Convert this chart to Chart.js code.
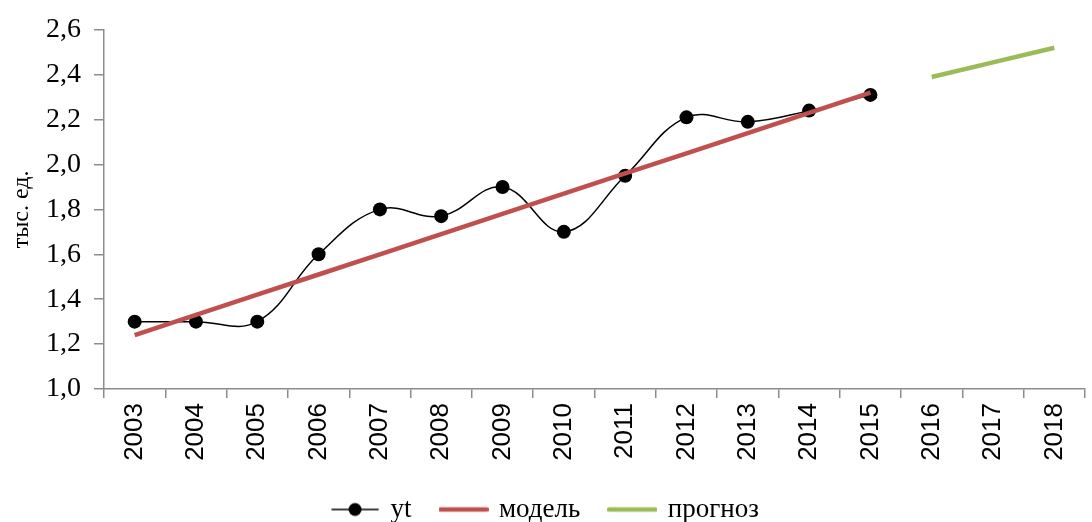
<!DOCTYPE html>
<html>
<head>
<meta charset="utf-8">
<script src="https://cdn.jsdelivr.net/npm/chart.js"></script>
<style>
  html, body { margin: 0; padding: 0; background: #fff; overflow: hidden; }
  #wrap { width: 1092px; height: 522px; }
</style>
</head>
<body>
<div id="wrap"><canvas id="chart" width="1092" height="522"></canvas></div>
<script>
const years = ['2003', '2004', '2005', '2006', '2007', '2008', '2009', '2010',
               '2011', '2012', '2013', '2014', '2015', '2016', '2017', '2018'];
const ytValues = [1.30, 1.30, 1.30, 1.60, 1.80, 1.77, 1.90, 1.70, 1.95, 2.21, 2.19, 2.24, 2.31,
                  null, null, null];
const modelValues = [1.24, 1.33, 1.42, 1.51, 1.60, 1.69, 1.78, 1.87, 1.96, 2.05, 2.14, 2.23, 2.32,
                     null, null, null];
const forecastValues = [null, null, null, null, null, null, null, null, null, null, null, null, null,
                        2.39, 2.455, 2.52];
const yTicks = [1.0, 1.2, 1.4, 1.6, 1.8, 2.0, 2.2, 2.4, 2.6];

const RED = 'rgb(192,80,77)';
const GREEN = 'rgb(155,187,89)';
const AXIS = '#8c8c8c';
const SERIF = '"Liberation Serif", "Times New Roman", serif';

// small legend markers
function marker(color, width, dot) {
    const c = document.createElement('canvas');
    c.width = 50; c.height = 16;
    const g = c.getContext('2d');
    g.strokeStyle = color;
    g.lineWidth = width;
    g.lineCap = 'round';
    g.beginPath();
    g.moveTo(2, 8);
    g.lineTo(48, 8);
    g.stroke();
    if (dot) {
        g.fillStyle = color;
        g.beginPath();
        g.arc(25, 8, 6.5, 0, Math.PI * 2);
        g.fill();
    }
    return c;
}
const markers = [marker('#000', 1.6, true), marker(RED, 4.5, false), marker(GREEN, 4.5, false)];

new Chart(document.getElementById('chart').getContext('2d'), {
    type: 'line',
    data: {
        labels: years,
        datasets: [
            {
                label: 'yt',
                data: ytValues,
                borderColor: '#000',
                backgroundColor: '#000',
                borderWidth: 1.5,
                pointRadius: 7,
                pointBorderWidth: 0,
                tension: 0.4,
                fill: false,
                order: 2
            },
            {
                label: 'модель',
                data: modelValues,
                borderColor: RED,
                backgroundColor: RED,
                borderWidth: 4.5,
                pointRadius: 0,
                tension: 0,
                fill: false,
                order: 1
            },
            {
                label: 'прогноз',
                data: forecastValues,
                borderColor: GREEN,
                backgroundColor: GREEN,
                borderWidth: 4.5,
                pointRadius: 0,
                tension: 0,
                fill: false,
                order: 1
            }
        ]
    },
    options: {
        responsive: false,
        animation: false,
        layout: { padding: { top: 29, right: 0, left: 0, bottom: -11 } },
        plugins: {
            tooltip: { enabled: false },
            legend: {
                position: 'bottom',
                labels: {
                    color: '#000',
                    font: { family: SERIF, size: 27 },
                    usePointStyle: true,
                    pointStyleWidth: 44,
                    padding: 30,
                    generateLabels: (chart) => chart.data.datasets.map((ds, i) => ({
                        text: ds.label,
                        pointStyle: markers[i],
                        datasetIndex: i,
                        hidden: false,
                        lineWidth: 0,
                        fillStyle: 'transparent',
                        strokeStyle: 'transparent'
                    }))
                }
            }
        },
        scales: {
            x: {
                offset: true,
                afterFit: (axis) => { axis.height = 77; },
                border: { color: AXIS, width: 1.5 },
                grid: { display: true, offset: true, drawOnChartArea: false, drawTicks: true,
                        tickLength: 9, color: AXIS, lineWidth: 1.5 },
                ticks: {
                    color: '#000',
                    maxRotation: 90,
                    minRotation: 90,
                    autoSkip: false,
                    padding: 5,
                    font: { family: '"Liberation Sans", Arial, sans-serif', size: 26 }
                }
            },
            y: {
                min: 1.0,
                max: 2.6,
                afterBuildTicks: (axis) => { axis.ticks = yTicks.map(v => ({ value: v })); },
                afterFit: (axis) => { axis.width = 104; },
                border: { color: AXIS, width: 1.5 },
                grid: { display: true, drawOnChartArea: false, drawTicks: true,
                        tickLength: 10, color: AXIS, lineWidth: 1.5 },
                title: {
                    display: true,
                    text: 'тыс. ед.',
                    color: '#000',
                    padding: { top: 7, bottom: 0 },
                    font: { family: SERIF, size: 24 }
                },
                ticks: {
                    color: '#000',
                    padding: 13,
                    callback: (v) => Number(v).toFixed(1).replace('.', ','),
                    font: { family: SERIF, size: 28 }
                }
            }
        }
    }
});
</script>
</body>
</html>
